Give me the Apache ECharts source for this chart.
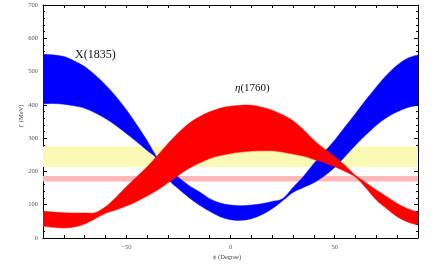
<!DOCTYPE html>
<html><head><meta charset="utf-8">
<script src="https://cdn.jsdelivr.net/npm/echarts@6/dist/echarts.min.js"></script>
<style>html,body{margin:0;padding:0;background:#fff}#c{width:440px;height:273px}</style>
</head><body><div id="c"></div>
<script>
const phi = [-90,-85,-80,-75,-70,-65,-60,-55,-50,-45,-40,-35,-30,-25,-20,-15,-10,-5,0,5,10,15,20,25,30,35,40,45,50,55,60,65,70,75,80,85,90];
const blueUpper = [552,550,545,532,515,490,460,425,385,340,292,240,207,182,158,139,118,105,99,97,99,103,110,118,152,185,224,258,294,334,374,415,454,490,519,540,550];
const blueLower = [403,404,402,397,390,376,359,338,314,289,263,236,178,148,122,99,80,64,55,53,58,70,88,112,137,152,166,186,212,245,279,310,339,362,379,392,399];
const redUpper = [80,78,76,75,75,76,94,122,154,184,214,248,284,316,344,364,379,390,396,399,399,393,384,370,352,325,294,268,244,218,188,166,144,124,104,88,78];
const redLower = [35,32,30,33,42,58,74,84,96,110,126,144,166,188,209,225,239,248,254,258,261,262,262,258,252,246,236,226,214,200,183,150,114,88,64,48,39];
const yellowBand = [213, 275];
const pinkBand = [170, 186];
const yTicks = [0,100,200,300,400,500,600,700];
const xLabels = [-50, 0, 50];

const chart = echarts.init(document.getElementById('c'), null, {renderer:'canvas'});
const serif = 'Liberation Serif';

// Catmull-Rom -> cubic bezier path through pixel points
function curvePath(pts, start) {
  let d = start ? 'M' + pts[0][0] + ' ' + pts[0][1] : 'L' + pts[0][0] + ' ' + pts[0][1];
  for (let i = 0; i < pts.length - 1; i++) {
    const p0 = pts[i-1] || pts[i], p1 = pts[i], p2 = pts[i+1], p3 = pts[i+2] || pts[i+1];
    const t = 1/6;
    const c1 = [p1[0] + (p2[0]-p0[0])*t, p1[1] + (p2[1]-p0[1])*t];
    const c2 = [p2[0] - (p3[0]-p1[0])*t, p2[1] - (p3[1]-p1[1])*t];
    d += 'C' + c1[0] + ' ' + c1[1] + ' ' + c2[0] + ' ' + c2[1] + ' ' + p2[0] + ' ' + p2[1];
  }
  return d;
}
function bandSeries(upper, lower, color, z) {
  return {
    type:'custom', z:z, silent:true, clip:true,
    data: phi.map((p,i)=>[p, upper[i], lower[i]]),
    encode:{x:0, y:[1,2]},
    renderItem: function(params, api) {
      if (params.dataIndex !== 0) return null;
      const up = [], lo = [];
      for (let i = 0; i < phi.length; i++) {
        up.push(api.coord([phi[i], upper[i]]));
        lo.push(api.coord([phi[i], lower[i]]));
      }
      lo.reverse();
      const d = curvePath(up, true) + curvePath(lo, false) + 'Z';
      return {type:'path', shape:{pathData:d}, style:{fill:color, stroke:color, lineWidth:0.5}};
    }
  };
}
const axBase = {
  min:-90, max:90, interval:10,
  axisLine:{show:true, onZero:false, lineStyle:{color:'#000', width:1}},
  axisTick:{show:true, inside:true, length:3, lineStyle:{color:'#000'}},
  splitLine:{show:false}
};
const ayBase = {
  min:0, max:700, interval:100,
  axisLine:{show:true, onZero:false, lineStyle:{color:'#000', width:1}},
  axisTick:{show:true, inside:true, length:4, lineStyle:{color:'#000'}},
  minorTick:{show:true, splitNumber:5, length:2, lineStyle:{color:'#000'}},
  splitLine:{show:false}
};
const option = {
  animation:false,
  grid:{left:43, right:22, top:5, bottom:35, containLabel:false},
  xAxis:[
    Object.assign({type:'value', position:'bottom',
      axisLabel:{fontFamily:serif, fontSize:6.5, color:'#555', margin:6,
        formatter:(v)=> xLabels.indexOf(v) >= 0 ? (v<0 ? '\u2212'+Math.abs(v) : String(v)) : ''}}, axBase),
    Object.assign({type:'value', position:'top', axisLabel:{show:false}}, axBase)
  ],
  yAxis:[
    Object.assign({type:'value', position:'left',
      axisLabel:{fontFamily:serif, fontSize:6.5, color:'#555', margin:5,
        formatter:(v)=> yTicks.indexOf(v)>=0 ? String(v) : ''}}, ayBase),
    Object.assign({type:'value', position:'right', axisLabel:{show:false}}, ayBase)
  ],
  series:[
    {type:'line', data:[], z:1, silent:true,
      markArea:{silent:true, itemStyle:{opacity:1}, data:[
        [{yAxis:yellowBand[0], itemStyle:{color:'#fbfab4'}}, {yAxis:yellowBand[1]}],
        [{yAxis:pinkBand[0], itemStyle:{color:'#ffb8b8'}}, {yAxis:pinkBand[1]}]
      ]}},
    bandSeries(blueUpper, blueLower, '#0000ff', 2),
    bandSeries(redUpper, redLower, '#ff0000', 3)
  ],
  graphic:[
    {type:'text', left:75, top:49, style:{text:'X(1835)', fontFamily:serif, fontSize:12, fill:'#111'}},
    {type:'text', left:235, top:83, style:{rich:{i:{fontFamily:serif, fontStyle:'italic', fontSize:11, fill:'#111'}, n:{fontFamily:serif, fontSize:11, fill:'#111'}}, text:'{i|\u03b7}{n|(1760)}'}},
    {type:'text', left:213, top:254, style:{text:'\u03d5 (Degree)', fontFamily:serif, fontSize:6.5, fill:'#444'}},
    {type:'text', x:21, y:116, rotation:Math.PI/2, style:{text:'\u0393 (MeV)', fontFamily:serif, fontSize:6.5, fill:'#444', align:'center', verticalAlign:'middle'}}
  ]
};
chart.setOption(option);
</script></body></html>
